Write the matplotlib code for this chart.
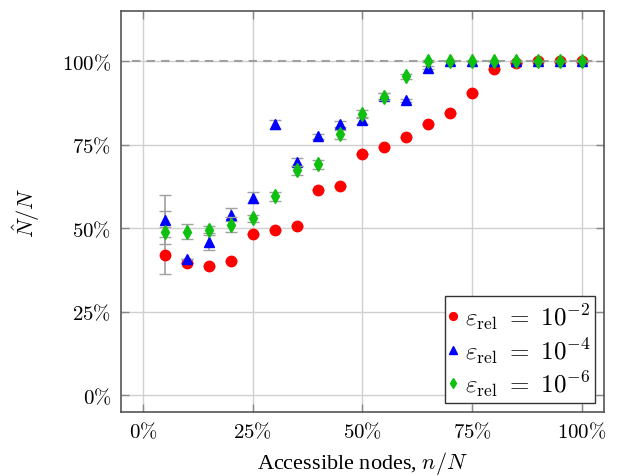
import matplotlib
matplotlib.use("Agg")
import matplotlib.pyplot as plt
import numpy as np

plt.rcParams['mathtext.fontset'] = 'cm'
plt.rcParams['font.family'] = ['Liberation Serif', 'DejaVu Serif']

# accessible nodes n/N in percent
x = [5, 10, 15, 20, 25, 30, 35, 40, 45, 50, 55, 60, 65, 70, 75, 80, 85, 90, 95, 100]

# estimated N_hat/N in percent for each tolerance
y_e2 = [42.0, 39.6, 38.6, 40.3, 48.2, 49.4, 50.6, 61.3, 62.5, 72.3, 74.3, 77.2, 81.2, 84.4, 90.3, 97.6, 99.3, 100, 100, 100]
y_e4 = [52.6, 40.8, 45.8, 54.0, 59.0, 81.1, 69.9, 77.5, 81.2, 82.3, 89.6, 88.3, 98.0, 100, 100, 100, 100, 100, 100, 100]
y_e6 = [48.8, 49.0, 49.5, 51.1, 53.0, 59.5, 67.3, 69.1, 78.1, 84.2, 89.4, 95.4, 100, 100, 100, 100, 100, 100, 100, 100]

# error bars (lower, upper)
lo_e2 = [5.7] + [0] * 19
hi_e2 = [17.8] + [0] * 19
lo_e4 = [7.3, 0, 2.2, 1.9, 1.5, 1.3, 1.2, 0.8, 1.0, 1.1, 0.8, 0.5, 0.5] + [0] * 7
hi_e4 = [2.7, 0, 2.2, 1.9, 1.8, 1.3, 1.2, 0.8, 1.0, 1.1, 0.8, 0.5, 0.5] + [0] * 7
lo_e6 = [1.3, 2.3, 1.0, 2.2, 1.1, 1.3, 1.4, 1.3, 1.3, 1.2, 1.0, 0.8, 0.3] + [0] * 7
hi_e6 = [1.7, 2.3, 1.2, 2.2, 1.1, 1.3, 1.4, 1.3, 1.3, 1.2, 1.0, 0.8, 0.3] + [0] * 7

ticks = [0, 25, 50, 75, 100]
tick_labels = [r'$0\%$', r'$25\%$', r'$50\%$', r'$75\%$', r'$100\%$']

fig = plt.figure(figsize=(6.2, 4.77), dpi=100)
ax = fig.add_axes([0.195, 0.134, 0.779, 0.841])

# reference line at 100%
ax.plot([-2.5, 102.5], [100, 100], color='#a0a0a0', ls=(0, (4, 3)), lw=1.5, zorder=1)

ecol = '#a0a0a0'
series = [
    (y_e2, lo_e2, hi_e2, 'o', 'red', 7.5, r'$\varepsilon_{\mathrm{rel}}\ =\ 10^{-2}$'),
    (y_e4, lo_e4, hi_e4, '^', 'blue', 7, r'$\varepsilon_{\mathrm{rel}}\ =\ 10^{-4}$'),
    (y_e6, lo_e6, hi_e6, 'd', '#10c010', 7, r'$\varepsilon_{\mathrm{rel}}\ =\ 10^{-6}$'),
]
handles = []
for i, (y, lo, hi, m, c, ms, lab) in enumerate(series):
    cont = ax.errorbar(x, y, yerr=[lo, hi], fmt=m, color=c, ms=ms,
                       ecolor=ecol, elinewidth=1.2, capsize=4, capthick=1.0,
                       label=lab, zorder=3 + i)
    handles.append(cont[0])

ax.set_xlim(-5, 105)
ax.set_ylim(-5, 115)
ax.set_xticks(ticks)
ax.set_xticklabels(tick_labels)
ax.set_yticks(ticks)
ax.set_yticklabels(tick_labels)
ax.grid(True, color='#d0d0d0', lw=1)
ax.set_axisbelow(True)
ax.tick_params(direction='in', length=6, width=1, color='#888888', labelsize=15,
               top=True, right=True, pad=7)
for s in ax.spines.values():
    s.set_color('#555555')
    s.set_linewidth(1.2)

ax.set_xlabel(r'Accessible nodes, $n/N$', fontsize=16, labelpad=5)
ax.set_ylabel(r'$\hat{N}/N$', fontsize=16, labelpad=14)

leg = ax.legend(handles, [s[6] for s in series], loc='lower right', fontsize=18,
                handlelength=0.3, handletextpad=0.3, markerscale=0.75,
                borderpad=0.2, labelspacing=0.15, fancybox=False,
                edgecolor='#333333', framealpha=1, borderaxespad=0.35)
leg.get_frame().set_linewidth(1.0)

fig.savefig('out.png', dpi=100)
